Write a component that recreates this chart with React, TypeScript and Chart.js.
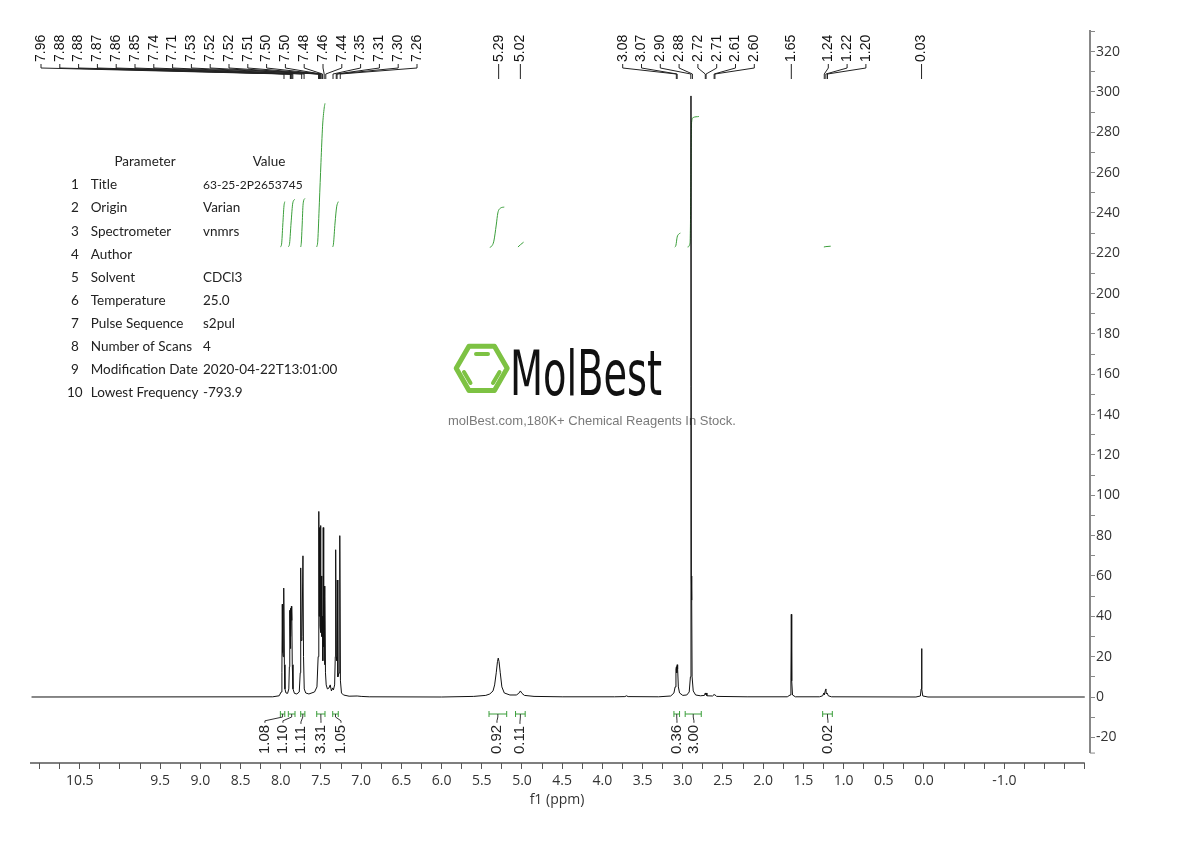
import React, { useEffect, useRef } from 'react';
import { Chart, registerables } from 'chart.js';

Chart.register(...registerables);

// ---------- axes ----------
const xAxisMin = -2.065;
const xAxisMax = 11.119;
const xDataEnd = -2.0;
const xTickStep = 0.25;
const xTickLabels = ['10.5', '9.5', '9.0', '8.5', '8.0', '7.5', '7.0', '6.5', '6.0', '5.5', '5.0', '4.5', '4.0', '3.5', '3.0', '2.5', '2.0', '1.5', '1.0', '0.5', '0.0', '-1.0'];
const yAxisMin = -32.72;
const yAxisMax = 330.69;
const yAxisEnd = -27.8;
const yTickStep = 10;
const yTickLabels = ['320', '300', '280', '260', '240', '220', '200', '180', '160', '140', '120', '100', '80', '60', '40', '20', '0', '-20'];

// ---------- spectrum (ppm, intensity) ----------
const spectrumPpm = [
  11.1, 8.10, 8.02, 7.995, 7.986, 7.981, 7.976, 7.971, 7.966, 7.960, 7.955, 7.948, 7.935, 7.915,
  7.90, 7.893, 7.888, 7.885, 7.882, 7.878, 7.873, 7.868, 7.865, 7.862, 7.857, 7.848, 7.83, 7.80,
  7.77, 7.758, 7.752, 7.746, 7.736, 7.724, 7.717, 7.708, 7.69, 7.65, 7.58, 7.55, 7.535, 7.527,
  7.522, 7.518, 7.512, 7.506, 7.501, 7.496, 7.49, 7.482, 7.477, 7.472, 7.466, 7.46, 7.455, 7.450,
  7.444, 7.435, 7.42, 7.40, 7.385, 7.37, 7.355, 7.345, 7.33, 7.322, 7.317, 7.311, 7.303, 7.297,
  7.29, 7.275, 7.268, 7.264, 7.258, 7.245, 7.22, 7.15, 7.05, 7.0, 6.9, 6.0, 5.6, 5.45, 5.40,
  5.36, 5.34, 5.32, 5.305, 5.295, 5.285, 5.27, 5.25, 5.22, 5.15, 5.07, 5.04, 5.02, 5.0, 4.97,
  4.85, 4.5, 3.85, 3.72, 3.70, 3.68, 3.3, 3.15, 3.11, 3.095, 3.085, 3.079, 3.075, 3.07, 3.064,
  3.055, 3.04, 3.0, 2.95, 2.92, 2.905, 2.898, 2.893, 2.889, 2.884, 2.87, 2.84, 2.78, 2.73, 2.72,
  2.715, 2.71, 2.70, 2.63, 2.61, 2.605, 2.60, 2.58, 2.2, 1.70, 1.665, 1.655, 1.650, 1.645, 1.635,
  1.60, 1.30, 1.26, 1.245, 1.24, 1.225, 1.22, 1.215, 1.205, 1.20, 1.19, 1.15, 0.10, 0.045, 0.035,
  0.03, 0.025, 0.015, -0.05, -2.0,
];
const spectrumIntensity = [
  0, 0.1, 0.6, 2.5, 12, 46, 22, 20, 30, 54, 16, 4, 2, 1.8,
  4, 15, 43, 35, 44, 24, 30, 45, 38, 44, 16, 4, 1.8, 1.5,
  2.5, 12, 64, 28, 30, 70, 20, 4, 2, 1.5, 2.5, 5, 20, 92,
  40, 84, 35, 85, 32, 60, 30, 40, 18, 84, 25, 55, 16, 50,
  12, 6, 4, 4.5, 6, 3, 4.5, 3.5, 6, 20, 73, 20, 18, 58,
  10, 12, 30, 80, 8, 2, 1, 0.4, 0.5, 0.3, 0.1, 0, 0.3, 0.8, 1.5,
  3, 6, 12, 17.5, 19.3, 17.5, 12, 5, 2, 1, 1, 1.8, 3, 1.8, 0.8,
  0.3, 0.1, 0.1, 0.2, 0.6, 0.2, 0.1, 0.5, 2, 5, 14, 15, 12, 16, 14,
  5, 2, 0.8, 1, 2.5, 10, 298, 60, 48, 10, 3, 1, 0.6, 0.8, 2,
  1.3, 2, 0.6, 0.5, 1.2, 0.9, 1.2, 0.3, 0.1, 0.1, 1, 8, 41, 8, 1,
  0.1, 0.1, 0.6, 2, 1, 3.5, 4, 1.5, 2, 2, 0.6, 0.1, 0, 0.5, 4,
  24, 4, 0.5, 0, 0,
];

// ---------- integral curves ----------
const integralCurvePpm = [
  [8.005, 7.99, 7.975, 7.96, 7.95],
  [7.906, 7.89, 7.872, 7.85, 7.823],
  [7.752, 7.745, 7.735, 7.722, 7.70],
  [7.553, 7.54, 7.52, 7.50, 7.48, 7.46, 7.45],
  [7.354, 7.345, 7.325, 7.305, 7.285],
  [5.40, 5.377, 5.35, 5.32, 5.30, 5.27, 5.22],
  [5.05, 5.02, 4.98],
  [3.10, 3.085, 3.07, 3.05, 3.03],
  [2.94, 2.91, 2.90, 2.895, 2.89, 2.87, 2.80],
  [1.245, 1.22, 1.16],
];
const integralCurveValue = [
  [223.1, 224.5, 234, 243.5, 245.6],
  [223.1, 225, 235, 245, 246.8],
  [223.1, 225, 233, 244.5, 247.2],
  [223.1, 226, 245, 265, 283, 292, 294.3],
  [223.1, 224.5, 235, 243, 245.6],
  [222.9, 223.5, 226, 234, 240, 242.3, 242.9],
  [223.1, 224.2, 225.5],
  [223, 224, 228, 229.5, 230],
  [223.1, 225, 250, 275, 285, 287.3, 287.8],
  [223.1, 223.3, 223.5],
];

// ---------- integration brackets ----------
const integralFromPpm = [8.005, 7.906, 7.752, 7.553, 7.354, 5.41, 5.08, 3.11, 2.97, 1.26];
const integralToPpm = [7.95, 7.823, 7.70, 7.45, 7.285, 5.19, 4.96, 3.04, 2.77, 1.14];
const integralValues = ['1.08', '1.10', '1.11', '3.31', '1.05', '0.92', '0.11', '0.36', '3.00', '0.02'];
const integralLabelPpm = [8.197, 7.973, 7.749, 7.50, 7.251, 5.311, 5.025, 3.072, 2.861, 1.194];

// ---------- peak labels ----------
const peakLabelGroups = [
  ['7.96', '7.88', '7.88', '7.87', '7.86', '7.85', '7.74', '7.71', '7.53', '7.52', '7.52', '7.51', '7.50', '7.50', '7.48', '7.46', '7.44', '7.35', '7.31', '7.30', '7.26'],
  ['5.29'],
  ['5.02'],
  ['3.08', '3.07', '2.90', '2.88', '2.72', '2.71', '2.61', '2.60'],
  ['1.65'],
  ['1.24', '1.22', '1.20'],
  ['0.03'],
];
const peakLabelGroupStartPx = [41, null, null, 622.7, null, 828.3, null];
const peakLabelStepPx = 18.8;

// ---------- parameter table ----------
const paramNames = ['Title', 'Origin', 'Spectrometer', 'Author', 'Solvent', 'Temperature', 'Pulse Sequence', 'Number of Scans', 'Modification Date', 'Lowest Frequency'];
const paramValues = ['63-25-2P2653745', 'Varian', 'vnmrs', '', 'CDCl3', '25.0', 's2pul', '4', '2020-04-22T13:01:00', '-793.9'];

const UI_FONT = '"Open Sans", "Noto Sans", sans-serif';
const TABLE_FONT = 'Lato, "Open Sans", sans-serif';
const LABEL_FONT = '"Liberation Sans", Arial, sans-serif';
const GREEN = '#3a9e3a';

function rotText(ctx: CanvasRenderingContext2D, text: string, x: number, yBottom: number) {
  ctx.save();
  ctx.translate(x, yBottom);
  ctx.rotate(-Math.PI / 2);
  ctx.textAlign = 'left';
  ctx.textBaseline = 'middle';
  ctx.fillText(text, 0, 0);
  ctx.restore();
}

function drawLogo(ctx: CanvasRenderingContext2D) {
  ctx.save();
  const cx = 481.7, cy = 368.3, r = 25.5;
  ctx.strokeStyle = '#7dc243';
  ctx.lineWidth = 5;
  ctx.lineJoin = 'round';
  ctx.beginPath();
  for (let i = 0; i < 6; i++) {
    const a = (Math.PI / 3) * i;
    const px = cx + r * Math.cos(a);
    const py = cy + r * Math.sin(a);
    if (i === 0) ctx.moveTo(px, py); else ctx.lineTo(px, py);
  }
  ctx.closePath();
  ctx.stroke();
  ctx.lineWidth = 4;
  ctx.lineCap = 'round';
  ctx.beginPath();
  ctx.moveTo(476, 354); ctx.lineTo(488, 354);
  ctx.moveTo(464, 372); ctx.lineTo(470.5, 383);
  ctx.moveTo(499.5, 372); ctx.lineTo(493, 383);
  ctx.stroke();

  ctx.fillStyle = '#111';
  ctx.font = '62px "DejaVu Sans", sans-serif';
  ctx.textBaseline = 'alphabetic';
  ctx.textAlign = 'left';
  const w = ctx.measureText('MolBest').width;
  ctx.translate(510, 395);
  ctx.scale(152 / w, 1);
  ctx.fillText('MolBest', 0, 0);
  ctx.restore();

  ctx.save();
  ctx.fillStyle = '#7a7a7a';
  ctx.font = '13px ' + LABEL_FONT;
  ctx.textAlign = 'left';
  ctx.textBaseline = 'middle';
  ctx.fillText('molBest.com,180K+ Chemical Reagents In Stock.', 448, 421);
  ctx.restore();
}

const overlayPlugin = {
  id: 'nmrOverlay',
  beforeDatasetsDraw(chart: any) {
    drawLogo(chart.ctx);
  },
  afterDraw(chart: any) {
    const ctx: CanvasRenderingContext2D = chart.ctx;
    const xs = chart.scales.x;
    const ys = chart.scales.y;
    const area = chart.chartArea;

    // axis lines
    ctx.save();
    ctx.strokeStyle = '#555';
    ctx.lineWidth = 1.5;
    ctx.beginPath();
    ctx.moveTo(area.left, area.bottom);
    ctx.lineTo(xs.getPixelForValue(xDataEnd), area.bottom);
    ctx.stroke();
    ctx.strokeStyle = '#888';
    ctx.lineWidth = 2;
    const yb = ys.getPixelForValue(yAxisEnd);
    ctx.beginPath();
    ctx.moveTo(area.right, area.top);
    ctx.lineTo(area.right, yb);
    ctx.stroke();
    ctx.lineWidth = 1;
    ctx.beginPath();
    ctx.moveTo(area.right, yb);
    ctx.lineTo(area.right + 5, yb);
    ctx.stroke();
    ctx.restore();

    // axis title
    ctx.save();
    ctx.fillStyle = '#333';
    ctx.font = '14px ' + UI_FONT;
    ctx.textAlign = 'center';
    ctx.textBaseline = 'middle';
    ctx.fillText('f1 (ppm)', 557, 800);
    ctx.restore();

    // peak labels
    ctx.save();
    ctx.fillStyle = '#111';
    ctx.strokeStyle = '#222';
    ctx.lineWidth = 1;
    ctx.font = '14px ' + LABEL_FONT;
    peakLabelGroups.forEach((group, gi) => {
      group.forEach((label, i) => {
        const px = xs.getPixelForValue(parseFloat(label));
        const start = peakLabelGroupStartPx[gi];
        const lx = start == null ? px : start + i * peakLabelStepPx;
        rotText(ctx, label, lx, 62);
        ctx.beginPath();
        ctx.moveTo(lx, 64);
        ctx.lineTo(lx, 68);
        ctx.lineTo(px, 74);
        ctx.lineTo(px, 79);
        ctx.stroke();
      });
    });
    ctx.restore();

    // integration brackets and labels
    ctx.save();
    ctx.lineWidth = 1;
    ctx.font = '15px ' + LABEL_FONT;
    integralValues.forEach((val, i) => {
      const x1 = xs.getPixelForValue(integralFromPpm[i]);
      const x2 = xs.getPixelForValue(integralToPpm[i]);
      const bx = (x1 + x2) / 2;
      const by = 714;
      ctx.strokeStyle = GREEN;
      ctx.beginPath();
      ctx.moveTo(x1, by); ctx.lineTo(x2, by);
      ctx.moveTo(x1, by - 3); ctx.lineTo(x1, by + 3);
      ctx.moveTo(x2, by - 3); ctx.lineTo(x2, by + 3);
      ctx.stroke();
      const lx = xs.getPixelForValue(integralLabelPpm[i]);
      ctx.fillStyle = '#222';
      rotText(ctx, val, lx, 754);
      const tw = ctx.measureText(val).width;
      const top = 754 - tw - 2;
      ctx.strokeStyle = '#333';
      ctx.beginPath();
      ctx.moveTo(lx, top);
      ctx.lineTo(lx, top - 2);
      ctx.lineTo(bx, by + 3);
      ctx.lineTo(bx, by);
      ctx.stroke();
    });
    ctx.restore();

    // parameter table
    ctx.save();
    ctx.fillStyle = '#222';
    ctx.textBaseline = 'middle';
    ctx.font = '13.5px ' + TABLE_FONT;
    ctx.textAlign = 'center';
    ctx.fillText('Parameter', 145, 162);
    ctx.fillText('Value', 269, 162);
    ctx.textAlign = 'left';
    paramNames.forEach((name, i) => {
      const y = 185 + i * 23.1;
      ctx.font = '13.5px ' + TABLE_FONT;
      ctx.fillText(String(i + 1), i === 9 ? 67 : 71, y);
      ctx.fillText(name, 90.7, y);
      ctx.font = (i === 0 ? '12px ' : '13.5px ') + TABLE_FONT;
      ctx.fillText(paramValues[i], 203, y);
    });
    ctx.restore();
  },
};

export default function App() {
  const canvasRef = useRef<HTMLCanvasElement | null>(null);

  useEffect(() => {
    const canvas = canvasRef.current;
    if (!canvas) return;

    const datasets: any[] = [
      {
        label: 'spectrum',
        data: spectrumPpm.map((p, i) => ({ x: p, y: spectrumIntensity[i] })),
        borderColor: '#111',
        borderWidth: 1,
        pointRadius: 0,
        tension: 0,
        fill: false,
      },
    ];
    integralCurvePpm.forEach((ppms, k) => {
      datasets.push({
        label: 'integral' + k,
        data: ppms.map((p, i) => ({ x: p, y: integralCurveValue[k][i] })),
        borderColor: GREEN,
        borderWidth: 1,
        pointRadius: 0,
        cubicInterpolationMode: 'monotone',
        fill: false,
      });
    });

    const chart = new Chart(canvas, {
      type: 'line',
      data: { datasets },
      options: {
        responsive: false,
        devicePixelRatio: 1,
        animation: false,
        events: [],
        layout: { padding: { left: 30, top: 30, right: 0, bottom: 0 } },
        plugins: { legend: { display: false }, tooltip: { enabled: false } },
        scales: {
          x: {
            type: 'linear',
            position: 'bottom',
            reverse: true,
            min: xAxisMin,
            max: xAxisMax,
            afterBuildTicks: (scale: any) => {
              const ticks = [];
              for (let v = -2.0; v <= 11.0001; v += xTickStep) ticks.push({ value: Math.round(v * 100) / 100 });
              scale.ticks = ticks;
            },
            afterFit: (scale: any) => {
              scale.height = 841 - 763;
              scale.paddingLeft = 0; scale.paddingRight = 0;
            },
            grid: { drawOnChartArea: false, drawTicks: true, tickLength: 6, tickColor: '#555', tickWidth: 1 },
            border: { display: false },
            ticks: {
              autoSkip: false,
              maxRotation: 0,
              padding: 4,
              color: '#333',
              font: { family: 'Open Sans', size: 14 },
              callback: (value: any) => {
                const s = Number(value).toFixed(1);
                return xTickLabels.includes(s) && Math.abs(Number(value) * 2 - Math.round(Number(value) * 2)) < 1e-6 ? s : '';
              },
            },
          },
          y: {
            type: 'linear',
            position: 'right',
            min: yAxisMin,
            max: yAxisMax,
            afterBuildTicks: (scale: any) => {
              const ticks = [];
              for (let v = -20; v <= 330; v += yTickStep) ticks.push({ value: v });
              scale.ticks = ticks;
            },
            afterFit: (scale: any) => {
              scale.width = 100;
              scale.paddingTop = 0; scale.paddingBottom = 0;
            },
            grid: { drawOnChartArea: false, drawTicks: true, tickLength: 5, tickColor: '#888', tickWidth: 1 },
            border: { display: false },
            ticks: {
              autoSkip: false,
              padding: 1,
              color: '#333',
              font: { family: 'Open Sans', size: 14 },
              callback: (value: any) => {
                const s = String(value);
                return yTickLabels.includes(s) ? s : '';
              },
            },
          },
        },
      },
      plugins: [overlayPlugin],
    } as any);

    return () => chart.destroy();
  }, []);

  return (
    <div style={{ position: 'absolute', left: 0, top: 0, width: 1190, height: 841, background: '#fff' }}>
      <canvas ref={canvasRef} width={1190} height={841} style={{ display: 'block' }} />
    </div>
  );
}
